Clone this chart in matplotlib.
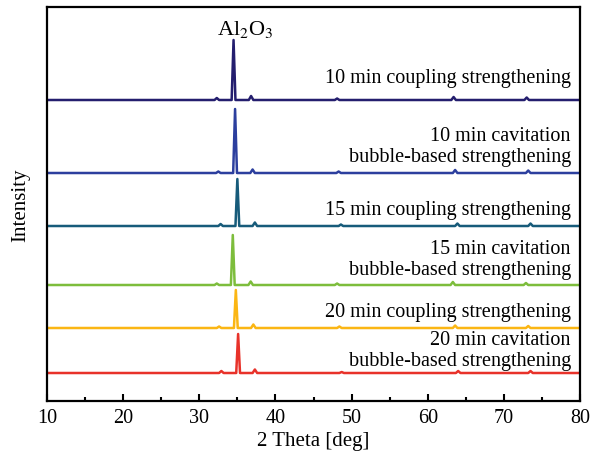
import matplotlib
matplotlib.use("Agg")
import matplotlib.pyplot as plt

plt.rcParams['font.family'] = ['Liberation Serif', 'DejaVu Serif']
plt.rcParams['mathtext.fontset'] = 'stix'

# 2 theta positions of the points (baseline + peak apexes)
tt_navy = [10, 32.0, 32.3, 32.6, 34.25, 34.5, 34.75, 36.5, 36.8, 37.1, 47.8, 48.1, 48.4, 63.1, 63.4, 63.7, 72.7, 73.0, 73.3, 80]
tt_blue = [10, 32.2, 32.5, 32.8, 34.45, 34.7, 34.95, 36.7, 37.0, 37.3, 48.0, 48.3, 48.6, 63.3, 63.6, 63.9, 72.9, 73.2, 73.5, 80]
tt_teal = [10, 32.5, 32.8, 33.1, 34.75, 35.0, 35.25, 37.0, 37.3, 37.6, 48.3, 48.6, 48.9, 63.6, 63.9, 64.2, 73.2, 73.5, 73.8, 80]
tt_green = [10, 32.0, 32.3, 32.6, 34.15, 34.4, 34.65, 36.45, 36.75, 37.05, 47.8, 48.1, 48.4, 63.0, 63.3, 63.6, 72.6, 72.9, 73.2, 80]
tt_orange = [10, 32.3, 32.6, 32.9, 34.55, 34.8, 35.05, 36.8, 37.1, 37.4, 48.1, 48.4, 48.7, 63.3, 63.6, 63.9, 72.9, 73.2, 73.5, 80]
tt_red = [10, 32.6, 32.9, 33.2, 34.85, 35.1, 35.35, 37.0, 37.3, 37.6, 48.4, 48.7, 49.0, 63.7, 64.0, 64.3, 73.2, 73.5, 73.8, 80]

# intensities above each baseline (arb. units)
i_navy = [0, 0, 2, 0, 0, 60, 0, 0, 4, 0, 0, 1.5, 0, 0, 3, 0, 0, 2.5, 0, 0]
i_blue = [0, 0, 1.5, 0, 0, 64, 0, 0, 3.5, 0, 0, 1.5, 0, 0, 3, 0, 0, 2.5, 0, 0]
i_teal = [0, 0, 2, 0, 0, 47, 0, 0, 3.5, 0, 0, 1.5, 0, 0, 2.5, 0, 0, 2.5, 0, 0]
i_green = [0, 0, 1.5, 0, 0, 50, 0, 0, 3.5, 0, 0, 1.5, 0, 0, 3, 0, 0, 2, 0, 0]
i_orange = [0, 0, 1.5, 0, 0, 38, 0, 0, 3.5, 0, 0, 1.5, 0, 0, 2.5, 0, 0, 2, 0, 0]
i_red = [0, 0, 2, 0, 0, 39, 0, 0, 3.5, 0, 0, 1, 0, 0, 2, 0, 0, 2, 0, 0]

offsets = [301, 228, 175, 116, 73, 28]
labels = ["10 min coupling strengthening",
          "10 min cavitation\nbubble-based strengthening",
          "15 min coupling strengthening",
          "15 min cavitation\nbubble-based strengthening",
          "20 min coupling strengthening",
          "20 min cavitation\nbubble-based strengthening"]
label_y = [324, 255, 191, 142, 89, 51]
colors = ['#241e6e', '#2c3f9e', '#175b7a', '#7dbd3c', '#fbb614', '#e8322a']

fig = plt.figure(figsize=(6.01, 4.60), dpi=100)
ax = fig.add_axes([47 / 601, 58 / 460, 533 / 601, 394 / 460])

all_tt = [tt_navy, tt_blue, tt_teal, tt_green, tt_orange, tt_red]
all_i = [i_navy, i_blue, i_teal, i_green, i_orange, i_red]
for tt, inten, off, col, lab, ly in zip(all_tt, all_i, offsets, colors, labels, label_y):
    ax.plot(tt, [v + off for v in inten], color=col, lw=1.8)
    ax.text(78.8, ly, lab, ha='right', va='center', fontsize=14.5, linespacing=1.12)

ax.text(36.0, 373, r'Al$_2$O$_3$', ha='center', va='center', fontsize=16)

ax.set_xlim(10, 80)
ax.set_ylim(0, 394)
ax.set_xticks(range(10, 81, 10))
ax.set_xticks(range(15, 80, 10), minor=True)
ax.set_yticks([])
ax.tick_params(axis='x', which='major', direction='in', length=5, width=1.5, labelsize=14.5, pad=5)
ax.tick_params(axis='x', which='minor', direction='in', length=3, width=1.5)
for s in ax.spines.values():
    s.set_linewidth(1.6)
ax.set_xlabel("2 Theta [deg]", fontsize=15, labelpad=3)
ax.set_ylabel("Intensity", fontsize=15, labelpad=12)

fig.savefig("out.png", dpi=100)
